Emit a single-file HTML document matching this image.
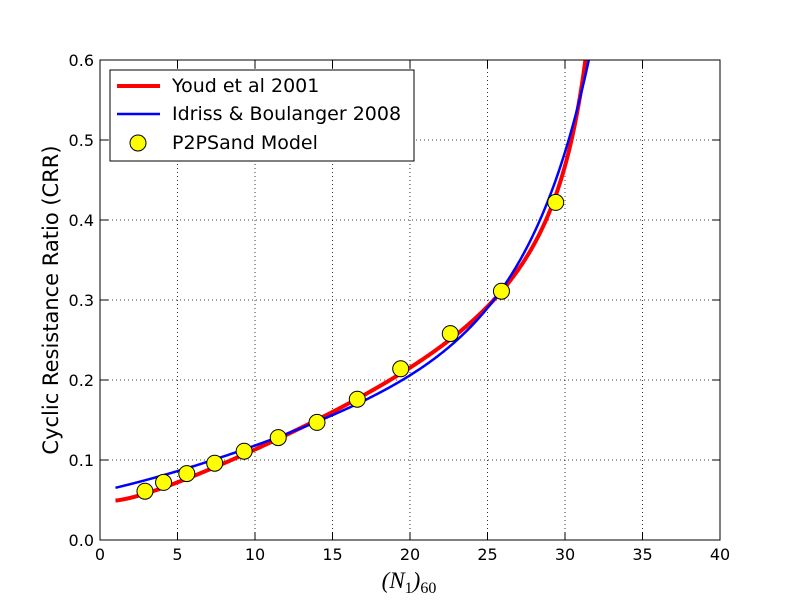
<!DOCTYPE html>
<html><head><meta charset="utf-8">
<style>
html,body{margin:0;padding:0;background:#fff;}
svg text{font-family:"DejaVu Sans","Liberation Sans",sans-serif;}
</style></head>
<body>
<svg id="s" width="800" height="600" xmlns="http://www.w3.org/2000/svg">
<defs><clipPath id="c"><rect x="100" y="60" width="620" height="480"/></clipPath></defs>
<rect width="800" height="600" fill="#fff"/>
<g id="grid"></g>
<g id="curves" clip-path="url(#c)"></g>
<rect x="100" y="60" width="620" height="480" fill="none" stroke="#000" stroke-width="1"/>
<g id="ticks"></g>
<text x="409" y="588" font-size="23" text-anchor="middle" style="font-family:'Liberation Serif',serif;font-style:italic">(N<tspan font-size="16" dy="5" style="font-style:normal">1</tspan><tspan dy="-5">)</tspan><tspan font-size="16" dy="5" style="font-style:normal">60</tspan></text>
<text x="58" y="300" font-size="21" text-anchor="middle" transform="rotate(-90 58 300)">Cyclic Resistance Ratio (CRR)</text>
<rect x="110" y="70" width="304" height="91" fill="#fff" stroke="#000" stroke-width="1"/>
<line x1="117" y1="86" x2="160" y2="86" stroke="#f00" stroke-width="4"/>
<text x="172" y="92" font-size="19">Youd et al 2001</text>
<line x1="117" y1="114" x2="160" y2="114" stroke="#0000ff" stroke-width="2.5"/>
<text x="172" y="120" font-size="19">Idriss &amp; Boulanger 2008</text>
<circle cx="138" cy="143" r="8" fill="#ffff00" stroke="#000" stroke-width="1"/>
<text x="172" y="149" font-size="19">P2PSand Model</text>
</svg>
<script>
var NS="http://www.w3.org/2000/svg";
function X(v){return 100+v*15.5;} function Y(v){return 540-v*800;}
function el(p,t,a,txt){var e=document.createElementNS(NS,t);for(var k in a)e.setAttribute(k,a[k]);if(txt!=null)e.textContent=txt;document.getElementById(p).appendChild(e);return e;}
for(var i=0;i<=8;i++){var x=X(i*5);
 if(i>0&&i<8)el("grid","line",{x1:x,y1:60,x2:x,y2:540,stroke:"#000","stroke-dasharray":"1,3","stroke-width":0.8});
 el("ticks","line",{x1:x,y1:540,x2:x,y2:532,stroke:"#000"});el("ticks","line",{x1:x,y1:60,x2:x,y2:68,stroke:"#000"});
 el("ticks","text",{x:x,y:560,"font-size":16,"text-anchor":"middle"},String(i*5));}
for(var j=0;j<=6;j++){var y=Y(j*0.1);
 if(j>0&&j<6)el("grid","line",{x1:100,y1:y,x2:720,y2:y,stroke:"#000","stroke-dasharray":"1,3","stroke-width":0.8});
 el("ticks","line",{x1:100,y1:y,x2:108,y2:y,stroke:"#000"});el("ticks","line",{x1:720,y1:y,x2:712,y2:y,stroke:"#000"});
 el("ticks","text",{x:94,y:y+6,"font-size":16,"text-anchor":"end"},(j*0.1).toFixed(1));}
function youd(n){return 1/(34-n)+n/135+50/Math.pow(10*n+45,2)-1/200;}
function ib(n){return Math.exp(n/14.1+Math.pow(n/126,2)-Math.pow(n/23.6,3)+Math.pow(n/25.4,4)-2.8);}
function path(f,max){var d="";for(var n=1;n<=max;n+=0.05){var v=f(n);if(v>0.7)break;d+=(d?"L":"M")+X(n).toFixed(2)+","+Y(v).toFixed(2);}return d;}
el("curves","path",{d:path(youd,33),fill:"none",stroke:"#f00","stroke-width":4});
el("curves","path",{d:path(ib,35),fill:"none",stroke:"#0000ff","stroke-width":2.5});
var pts=[[2.9,0.061],[4.1,0.072],[5.6,0.083],[7.4,0.096],[9.3,0.111],[11.5,0.128],[14,0.147],[16.6,0.176],[19.4,0.214],[22.6,0.258],[25.9,0.311],[29.4,0.422]];
pts.forEach(function(p){el("curves","circle",{cx:X(p[0]),cy:Y(p[1]),r:8,fill:"#ffff00",stroke:"#000","stroke-width":1});});
</script>
</body></html>
